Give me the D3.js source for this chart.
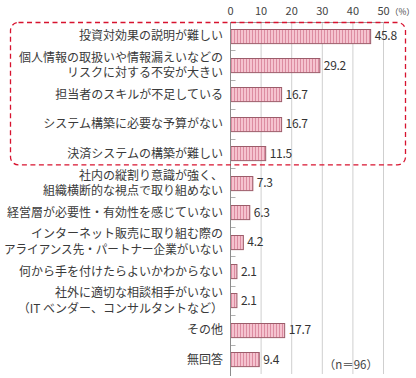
<!DOCTYPE html>
<html><head><meta charset="utf-8">
<script src="https://cdn.jsdelivr.net/npm/d3@7/dist/d3.min.js"></script>
<style>
html,body{margin:0;padding:0;background:#fff;}
text{font-family:"Noto Sans CJK JP","Noto Sans",sans-serif;}
</style></head>
<body><div id="chart"></div>
<script>
const categories = [
  ["投資対効果の説明が難しい"],
  ["個人情報の取扱いや情報漏えいなどの","リスクに対する不安が大きい"],
  ["担当者のスキルが不足している"],
  ["システム構築に必要な予算がない"],
  ["決済システムの構築が難しい"],
  ["社内の縦割り意識が強く、","組織横断的な視点で取り組めない"],
  ["経営層が必要性・有効性を感じていない"],
  ["インターネット販売に取り組む際の","アライアンス先・パートナー企業がいない"],
  ["何から手を付けたらよいかわからない"],
  ["社外に適切な相談相手がいない","（IT ベンダー、コンサルタントなど）"],
  ["その他"],
  ["無回答"]
];
const values = [45.8, 29.2, 16.7, 16.7, 11.5, 7.3, 6.3, 4.2, 2.1, 2.1, 17.7, 9.4];
const valueLabels = ["45.8","29.2","16.7","16.7","11.5","7.3","6.3","4.2","2.1","2.1","17.7","9.4"];
const ticks = [0, 10, 20, 30, 40, 50];
const unitLabel = "（%）";
const noteLabel = "（n＝96）";
const highlightCount = 5;

const W = 416, H = 378;
const svg = d3.select("#chart").append("svg").attr("width", W).attr("height", H);

const defs = svg.append("defs");
const pat = defs.append("pattern").attr("id","stripe").attr("patternUnits","userSpaceOnUse")
  .attr("width",3).attr("height",10);
pat.append("rect").attr("width",3).attr("height",10).attr("fill","#f5c3cf");
pat.append("rect").attr("x",0).attr("width",1).attr("height",10).attr("fill","#dc8ca1");

const x = d3.scaleLinear().domain([0, 50]).range([230.5, 383.5]);
const y = d3.scaleBand().domain(d3.range(categories.length)).range([21, 374]).paddingInner(0.52).paddingOuter(0.26);

// gridlines
svg.append("g").selectAll("line").data(ticks.filter(t => t > 0)).join("line")
  .attr("x1", d => x(d)).attr("x2", d => x(d)).attr("y1", 22).attr("y2", 374)
  .attr("stroke", "#cfcfcf").attr("stroke-width", 1);
// top frame line
svg.append("line").attr("x1", x(0)).attr("x2", x(50)).attr("y1", 22.5).attr("y2", 22.5)
  .attr("stroke", "#a0a0a0");
// tick labels
svg.append("g").selectAll("text").data(ticks).join("text")
  .attr("x", d => x(d)).attr("y", 15).attr("text-anchor", "middle")
  .attr("font-size", 11).attr("fill", "#444").text(d => d);
svg.append("text").attr("x", 390).attr("y", 15).attr("font-size", 8.5)
  .attr("fill", "#444").text(unitLabel);

// category separator ticks
const step = y.step();
const seps = d3.range(1, categories.length).map(i => y(i) - (step - y.bandwidth()) / 2);
svg.append("g").selectAll("line").data(seps).join("line")
  .attr("x1", x(0)).attr("x2", x(0) + 5).attr("y1", d => Math.round(d) + 0.5).attr("y2", d => Math.round(d) + 0.5)
  .attr("stroke", "#b0b0b0");

// bars
svg.append("g").selectAll("rect").data(values).join("rect")
  .attr("x", x(0)).attr("y", (d, i) => Math.round(y(i)) + 0.5)
  .attr("width", d => x(d) - x(0)).attr("height", y.bandwidth())
  .attr("fill", "url(#stripe)").attr("stroke", "#9c5c6a").attr("stroke-width", 1);

// axis line
svg.append("line").attr("x1", x(0)).attr("x2", x(0)).attr("y1", 22).attr("y2", 376)
  .attr("stroke", "#8c8c8c");

// value labels
svg.append("g").selectAll("text").data(values).join("text")
  .attr("x", d => x(d) + 4).attr("y", (d, i) => y(i) + y.bandwidth() / 2 + 4.5)
  .attr("font-size", 12).attr("fill", "#333").attr("letter-spacing", -0.3)
  .text((d, i) => valueLabels[i]);

// category labels
const maxW = 219;
const lab = svg.append("g").selectAll("text").data(categories).join("text")
  .attr("text-anchor", "end").attr("font-size", 12).attr("fill", "#3a3a3a");
lab.each(function(lines, i) {
  const cy = y(i) + y.bandwidth() / 2;
  const n = lines.length;
  d3.select(this).selectAll("tspan").data(lines).join("tspan")
    .attr("x", 223).attr("y", (l, j) => cy + 4.5 + (j - (n - 1) / 2) * 15.5)
    .text(l => l)
    .each(function() {
      const w = this.getComputedTextLength();
      if (w > maxW) d3.select(this).attr("textLength", maxW).attr("lengthAdjust", "spacingAndGlyphs");
    });
});

// highlight dashed box
const boxTop = 22, boxBottom = y(highlightCount - 1) + y.bandwidth() + 4;
svg.append("rect").attr("x", 10.5).attr("y", boxTop + 0.5).attr("width", 395)
  .attr("height", boxBottom - boxTop).attr("rx", 8).attr("ry", 8)
  .attr("fill", "none").attr("stroke", "#d7132f").attr("stroke-width", 1.3)
  .attr("stroke-dasharray", "5,3.5");

// note
svg.append("text").attr("x", 378).attr("y", 369).attr("text-anchor", "end")
  .attr("font-size", 11.5).attr("fill", "#444").text(noteLabel);
</script></body></html>
